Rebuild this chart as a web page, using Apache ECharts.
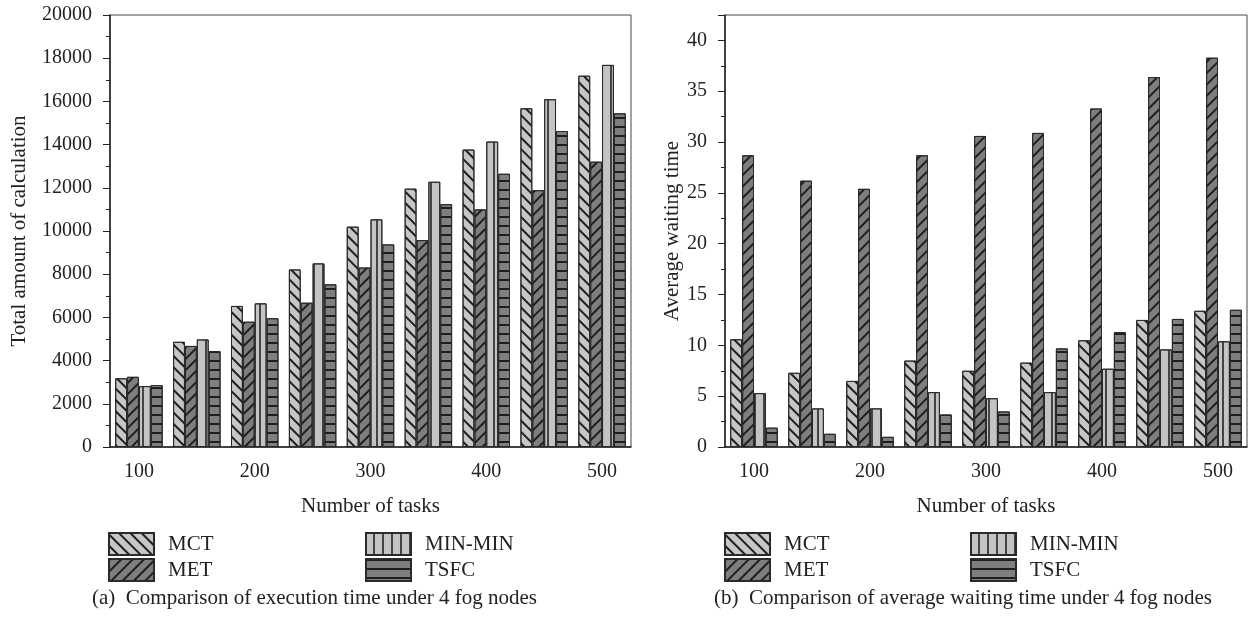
<!DOCTYPE html>
<html lang="en">
<head>
<meta charset="UTF-8">
<title>Comparison under 4 fog nodes</title>
<script src="https://cdn.jsdelivr.net/npm/echarts@6/dist/echarts.min.js"></script>
<style>
  html, body { margin: 0; padding: 0; background: #fff; }
  #main { width: 1254px; height: 627px; }
</style>
</head>
<body>
<div id="main"></div>
<script>
  // data
  const tasks = ['100', '150', '200', '250', '300', '350', '400', '450', '500'];

  const calcMCT    = [3180, 4870, 6530, 8220, 10200, 11960, 13770, 15680, 17190];
  const calcMET    = [3250, 4680, 5800, 6680, 8310, 9580, 11000, 11890, 13210];
  const calcMINMIN = [2820, 4980, 6650, 8500, 10540, 12280, 14140, 16100, 17690];
  const calcTSFC   = [2870, 4440, 5960, 7530, 9380, 11240, 12650, 14630, 15450];

  const waitMCT    = [10.6, 7.3, 6.5, 8.5, 7.5, 8.3, 10.5, 12.5, 13.4];
  const waitMET    = [28.7, 26.2, 25.4, 28.7, 30.6, 30.9, 33.3, 36.4, 38.3];
  const waitMINMIN = [5.3, 3.8, 3.8, 5.4, 4.8, 5.4, 7.7, 9.6, 10.4];
  const waitTSFC   = [1.9, 1.3, 1.0, 3.2, 3.5, 9.7, 11.3, 12.6, 13.5];

  const font = 'Liberation Serif';
  const ink = '#222';

  function lines(rotation, color, gap) {
    return {
      symbol: 'rect', symbolSize: 1, symbolKeepAspect: false,
      dashArrayX: [1, 0], dashArrayY: [1.1, gap],
      rotation: rotation, color: color
    };
  }

  const looks = {
    'MCT':     { color: '#c6c6c6', decal: lines(Math.PI / 4, '#1e1e1e', 6) },
    'MET':     { color: '#7e7e7e', decal: lines(-Math.PI / 4, '#1e1e1e', 6) },
    'MIN-MIN': { color: '#c4c4c4', decal: lines(Math.PI / 2, '#444', 6.8) },
    'TSFC':    { color: '#7f7f7f', decal: lines(0, '#1e1e1e', 6.6) }
  };

  function bar(name, data, idx) {
    return {
      name: name, type: 'bar', data: data,
      xAxisIndex: idx, yAxisIndex: idx,
      barGap: '0%', barCategoryGap: '18%',
      itemStyle: {
        color: looks[name].color,
        borderColor: '#2a2a2a', borderWidth: 1,
        decal: looks[name].decal
      }
    };
  }

  function xAxis(gridIndex) {
    return {
      type: 'category', gridIndex: gridIndex, data: tasks,
      name: 'Number of tasks', nameLocation: 'middle', nameGap: 49,
      nameTextStyle: { fontFamily: font, fontSize: 21, color: ink },
      axisLine: { lineStyle: { color: ink, width: 1.5 } },
      axisTick: { interval: 0, alignWithLabel: true, length: 7, lineStyle: { color: ink } },
      axisLabel: { interval: 1, margin: 15, fontFamily: font, fontSize: 20, color: ink },
      splitLine: { show: false }
    };
  }

  function yAxis(gridIndex, name, max, interval, nameGap) {
    return {
      type: 'value', gridIndex: gridIndex, min: 0, max: max, interval: interval,
      name: name, nameLocation: 'middle', nameGap: nameGap,
      nameTextStyle: { fontFamily: font, fontSize: 21, color: ink },
      axisLine: { show: true, lineStyle: { color: ink, width: 1.5 } },
      axisTick: { show: true, length: 7, lineStyle: { color: ink } },
      minorTick: { show: true, splitNumber: 2, length: 4, lineStyle: { color: ink } },
      axisLabel: {
        margin: 18, fontFamily: font, fontSize: 20, color: ink,
        showMaxLabel: max % interval === 0,
        formatter: v => String(v)
      },
      splitLine: { show: false }
    };
  }

  function legend(left, data) {
    return {
      left: left, top: 532, orient: 'vertical', itemGap: 2,
      itemWidth: 45, itemHeight: 22, icon: 'rect', padding: 0,
      data: data,
      textStyle: { fontFamily: font, fontSize: 21, color: ink, padding: [0, 0, 0, 9] }
    };
  }

  const chart = echarts.init(document.getElementById('main'));
  chart.setOption({
    animation: false,
    aria: { enabled: true, decal: { show: true } },
    title: [
      { text: '(a)  Comparison of execution time under 4 fog nodes', left: 87, top: 583,
        textStyle: { fontFamily: font, fontSize: 21, fontWeight: 'normal', color: ink } },
      { text: '(b)  Comparison of average waiting time under 4 fog nodes', left: 709, top: 583,
        textStyle: { fontFamily: font, fontSize: 21, fontWeight: 'normal', color: ink } }
    ],
    legend: [
      legend(108, ['MCT', 'MET']),
      legend(365, ['MIN-MIN', 'TSFC']),
      legend(724, ['MCT', 'MET']),
      legend(970, ['MIN-MIN', 'TSFC'])
    ],
    grid: [
      { left: 110, top: 15, width: 521, height: 432, show: true, borderColor: '#444', borderWidth: 1 },
      { left: 725, top: 15, width: 522, height: 432, show: true, borderColor: '#444', borderWidth: 1 }
    ],
    xAxis: [xAxis(0), xAxis(1)],
    yAxis: [
      yAxis(0, 'Total amount of calculation', 20000, 2000, 80),
      yAxis(1, 'Average waiting time', 42.5, 5, 33)
    ],
    series: [
      bar('MCT', calcMCT, 0),
      bar('MET', calcMET, 0),
      bar('MIN-MIN', calcMINMIN, 0),
      bar('TSFC', calcTSFC, 0),
      bar('MCT', waitMCT, 1),
      bar('MET', waitMET, 1),
      bar('MIN-MIN', waitMINMIN, 1),
      bar('TSFC', waitTSFC, 1)
    ]
  });
</script>
</body>
</html>
